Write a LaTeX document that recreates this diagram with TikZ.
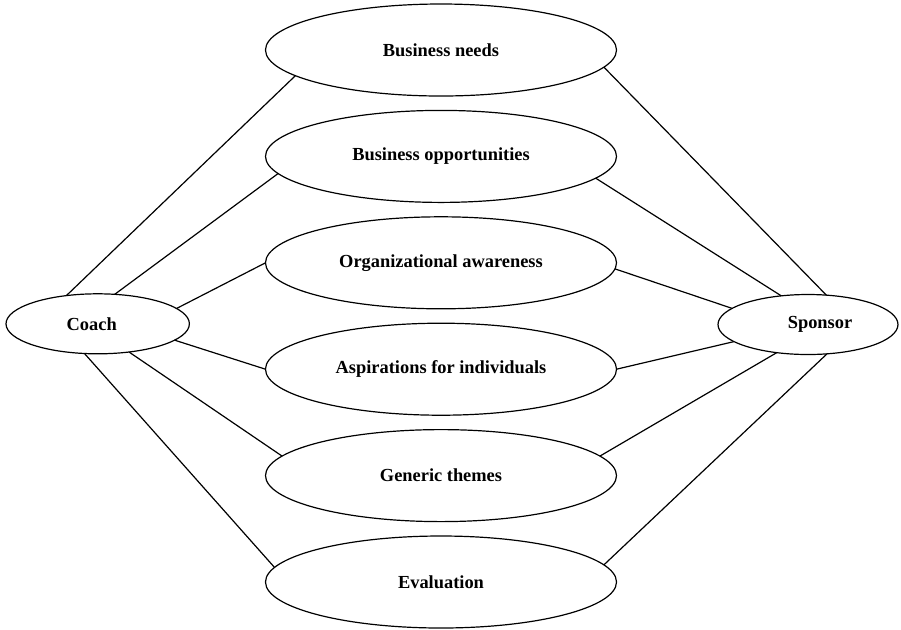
\documentclass[tikz,border=0pt]{standalone}
\usepackage{fontspec}
\setmainfont{Liberation Serif}
\usetikzlibrary{shapes.geometric}
\begin{document}
\begin{tikzpicture}[x=0.5pt,y=-0.5pt,
  every node/.style={font=\fontsize{9.2}{11}\selectfont\bfseries},
  topic/.style={draw, ellipse, line width=0.6pt, inner sep=0pt, outer sep=0pt,
    minimum width=175.5pt, minimum height=46pt},
  party/.style={draw, ellipse, line width=0.6pt, inner sep=0pt, outer sep=0pt,
    minimum height=30pt},
  link/.style={line width=0.6pt}]
\useasboundingbox (0,0) rectangle (901,629);

% central column of topics
\node[topic] (needs) at (441,50)    {Business needs};
\node[topic] (opps)  at (441,156.4) {Business opportunities};
\node[topic] (aware) at (441,262.8) {Organizational awareness};
\node[topic] (asp)   at (441,369.2) {Aspirations for individuals};
\node[topic] (gen)   at (441,475.6) {Generic themes};
\node[topic] (eval)  at (441,582)   {Evaluation};

% the two parties
\node[party, minimum width=91.7pt, label={[xshift=-3pt]center:Coach}] (coach) at (97.7,323.8) {};
\node[party, minimum width=90pt, label={[xshift=6pt]center:Sponsor}] (sponsor) at (808,324.5) {};

% coach links
\draw[link] (coach.138.1) -- (needs.190.7);
\draw[link] (coach.60.5)  -- (opps.186.8);
\draw[link] (coach.11.8)  -- (aware.180.9);
\draw[link] (coach.-12.1) -- (asp.180.3);
\draw[link] (coach.-42.4) -- (gen.173.6);
\draw[link] (coach.-114.8) -- (eval.175.3);

% sponsor links
\draw[link] (needs.-6.5) -- (sponsor.58.2);
\draw[link] (opps.-8.5)  -- (sponsor.133.5);
\draw[link] (aware.-2.4) -- (sponsor.168.3);
\draw[link] (asp.-0.3)   -- (sponsor.193);
\draw[link] (gen.7.1)    -- (sponsor.222);
\draw[link] (eval.6.7)   -- (sponsor.303.6);
\end{tikzpicture}
\end{document}
